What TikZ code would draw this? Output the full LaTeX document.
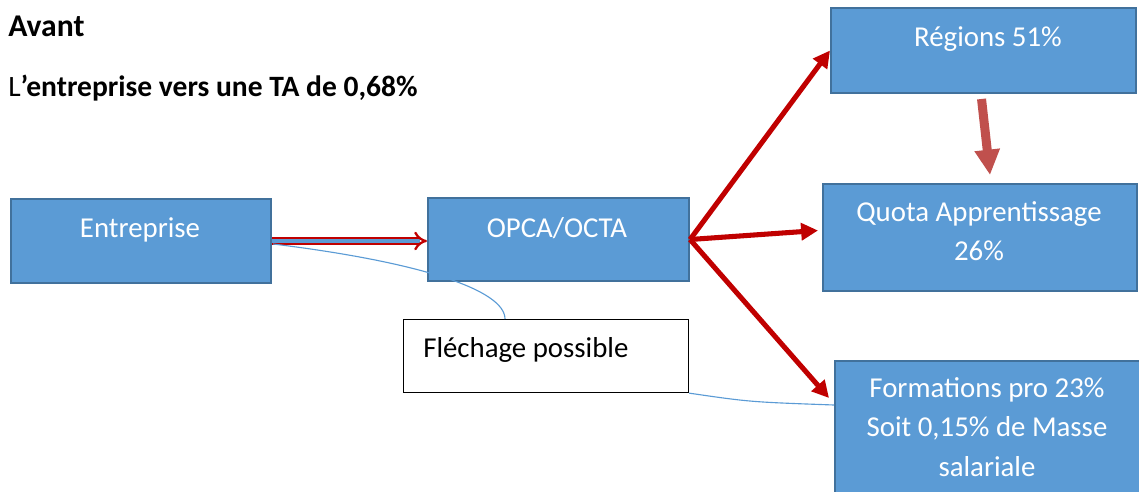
\documentclass[tikz,border=0pt]{standalone}
\usepackage{fontspec}
\setmainfont{Carlito}
\usetikzlibrary{arrows.meta,calc}
\definecolor{boxfill}{HTML}{5B9BD5}
\definecolor{boxedge}{HTML}{41719C}
\definecolor{flechred}{HTML}{C00000}
\definecolor{softred}{HTML}{C0504D}
\begin{document}
\begin{tikzpicture}[x=0.025cm, y=-0.025cm,
    box/.style={draw=boxedge, fill=boxfill, line width=1.4pt, anchor=north west, inner sep=0pt},
    boxtext/.style={text=white, font=\fontsize{20.5}{28}\selectfont, align=center, anchor=base, inner sep=0pt},
    redarrow/.style={draw=flechred, line width=3.6pt, -{Triangle[length=12pt,width=12pt]}},
    callout/.style={draw=boxfill, line width=0.8pt}]
    \clip (0,0) rectangle (1139,492);
    \node[anchor=base west, inner sep=0pt, font=\fontsize{22.5}{26}\selectfont\bfseries] (avant) at (8,37) {Avant};
    \node[anchor=base west, inner sep=0pt, font=\fontsize{21}{26}\selectfont] (titre) at (8,97) {L\textbf{’entreprise vers une TA de 0,68\%}};
    \node[box, minimum width=6.5cm, minimum height=2.1cm] (ent) at (10,198) {};
    \node[box, minimum width=6.525cm, minimum height=2.075cm] (opca) at (427,197) {};
    \node[box, minimum width=7.625cm, minimum height=2.125cm] (reg) at (830,7) {};
    \node[box, minimum width=7.85cm, minimum height=2.675cm] (quota) at (822,183) {};
    \node[box, minimum width=7.625cm, minimum height=3.5cm] (form) at (834,360) {};
    \node[draw=black, fill=white, line width=0.8pt, anchor=north west, minimum width=7.125cm, minimum height=1.825cm] (flech) at (403,319) {};
    % multi-line labels sit on the baseline of their last line
    \node[boxtext] (entlabel) at (140,238) {Entreprise};
    \node[boxtext] (opcalabel) at (557,238) {OPCA/OCTA};
    \node[boxtext] (reglabel) at (988,47) {Régions 51\%};
    \node[boxtext] (quotalabel) at (979,261) {Quota Apprentissage\\26\%};
    \node[boxtext] (formlabel) at (987,476) {Formations pro 23\%\\Soit 0,15\% de Masse\\salariale};
    \node[anchor=base west, inner sep=0pt, font=\fontsize{20.5}{28}\selectfont] (flechlabel) at (423,357) {Fléchage possible};
    \draw[double, draw=flechred, double=boxfill, line width=1.6pt, double distance=2.8pt, -{Implies}] (ent.east) -- (ent.east -| opca.west);
    \draw[redarrow] (opca.east) -- (reg.west);
    \draw[redarrow] (opca.east) -- ($(quota.west)+(-4,-7)$);
    \draw[redarrow] (opca.east) -- ($(form.north west)+(-5,38)$);
    \draw[draw=softred, line width=6.4pt, -{Triangle[length=18pt,width=17pt]}] ($(reg.south)+(-2,5)$) -- ($(quota.north)+(10,-8)$);
    \draw[callout] ($(ent.east)+(1,3)$) .. controls (420,262) and ($(flech.north west)+(102,-29)$) .. ($(flech.north west)+(102,0)$);
    \draw[callout] (flech.south east) .. controls (750,402) .. ($(form.north west)+(0,45)$);
\end{tikzpicture}
\end{document}
